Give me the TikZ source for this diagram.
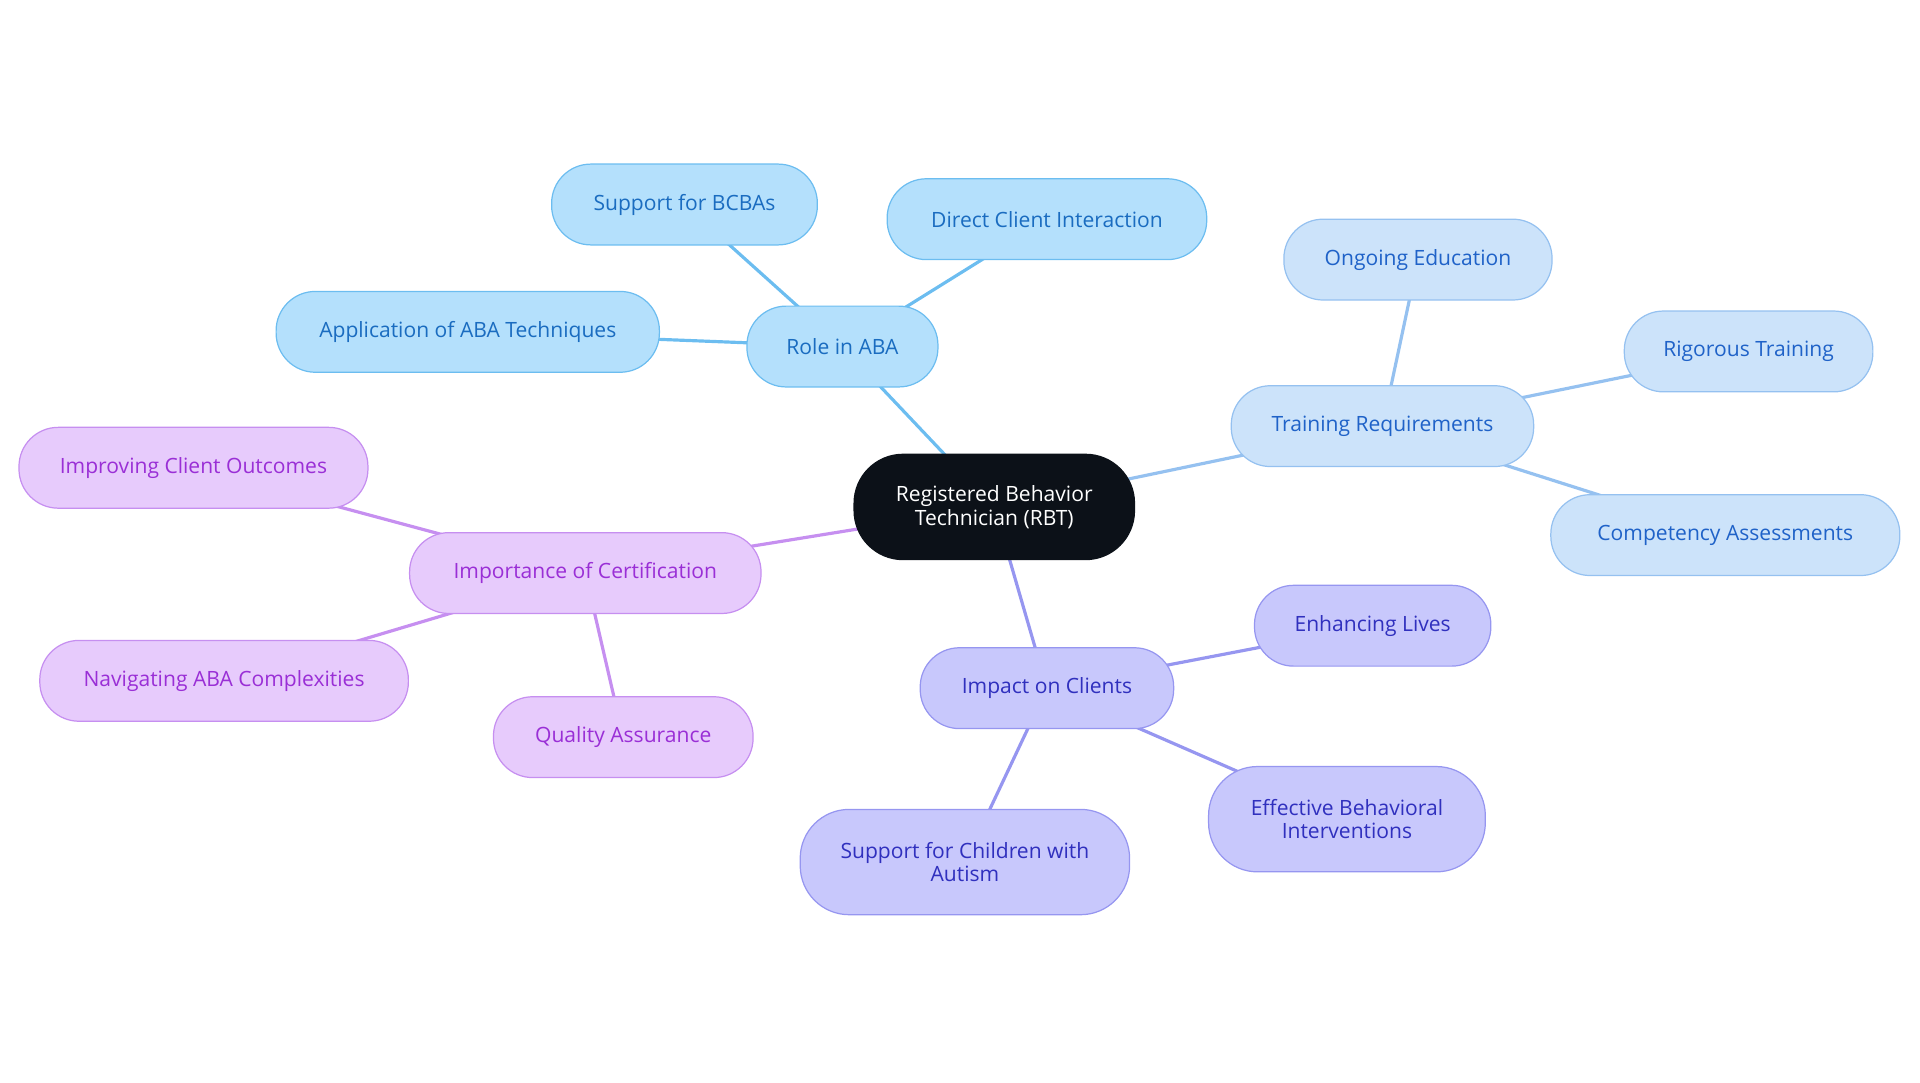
\documentclass[tikz,border=0pt]{standalone}
\usepackage{fontspec}
\setmainfont{Open Sans}
\pgfdeclarelayer{bg}
\pgfsetlayers{bg,main}
\definecolor{bF}{HTML}{B4E0FC}\definecolor{bD}{HTML}{6CBDF0}\definecolor{bT}{HTML}{1A6CC0}
\definecolor{lF}{HTML}{CCE3FA}\definecolor{lD}{HTML}{95C1F0}\definecolor{lT}{HTML}{1F62C8}
\definecolor{pF}{HTML}{E7CBFC}\definecolor{pD}{HTML}{C68FF0}\definecolor{pT}{HTML}{9A2FD6}
\definecolor{iF}{HTML}{C8C8FC}\definecolor{iD}{HTML}{9696F0}\definecolor{iT}{HTML}{3030BE}
\definecolor{dk}{HTML}{0C1118}
\tikzset{
 box/.style={draw, line width=0.5pt, rounded corners=16pt, minimum height=33pt, align=center, font=\fontsize{8.6}{9.6}\selectfont, inner sep=0pt},
 B/.style={box, fill=bF, draw=bD, text=bT}, L/.style={box, fill=lF, draw=lD, text=lT},
 P/.style={box, fill=pF, draw=pD, text=pT}, I/.style={box, fill=iF, draw=iD, text=iT},
 e/.style={line width=1.3pt}
}
\begin{document}
\begin{tikzpicture}[x=0.5pt,y=-0.5pt]
\useasboundingbox (0,0) rectangle (1568,884);
\node[box, fill=dk, draw=dk, text=white, minimum width=114.5pt, minimum height=43pt, rounded corners=20pt] (c) at (812,414) {Registered Behavior\\Technician (RBT)};
\node[B, minimum width=78pt] (r) at (688,283) {Role in ABA};
\node[B, minimum width=108.5pt] (r1) at (559,167) {Support for BCBAs};
\node[B, minimum width=130.5pt] (r2) at (855,179) {Direct Client Interaction};
\node[B, minimum width=156.5pt] (r3) at (382,271) {Application of ABA Techniques};
\node[L, minimum width=123.5pt] (t) at (1129,348) {Training Requirements};
\node[L, minimum width=109.5pt] (t1) at (1158,212) {Ongoing Education};
\node[L, minimum width=101.5pt] (t2) at (1428,287) {Rigorous Training};
\node[L, minimum width=142.5pt] (t3) at (1409,437) {Competency Assessments};
\node[P, minimum width=143.5pt] (p) at (478,468) {Importance of Certification};
\node[P, minimum width=142.5pt] (p1) at (158,382) {Improving Client Outcomes};
\node[P, minimum width=150.5pt] (p2) at (183,556) {Navigating ABA Complexities};
\node[P, minimum width=106pt] (p3) at (509,602) {Quality Assurance};
\node[I, minimum width=103.5pt] (i) at (855,562) {Impact on Clients};
\node[I, minimum width=96.5pt] (i1) at (1121,511) {Enhancing Lives};
\node[I, minimum width=113pt, minimum height=43pt, rounded corners=20pt] (i2) at (1100,669) {Effective Behavioral\\Interventions};
\node[I, minimum width=134.5pt, minimum height=43pt, rounded corners=20pt] (i3) at (788,704) {Support for Children with\\Autism};
\begin{pgfonlayer}{bg}
\draw[e, bD] (c.center)--(r.center) (r.center)--(r1.center) (r.center)--(r2.center) (r.center)--(r3.center);
\draw[e, lD] (c.center)--(t.center) (t.center)--(t1.center) (t.center)--(t2.center) (t.center)--(t3.center);
\draw[e, pD] (c.center)--(p.center) (p.center)--(p1.center) (p.center)--(p2.center) (p.center)--(p3.center);
\draw[e, iD] (c.center)--(i.center) (i.center)--(i1.center) (i.center)--(i2.center) (i.center)--(i3.center);
\end{pgfonlayer}
\end{tikzpicture}
\end{document}
